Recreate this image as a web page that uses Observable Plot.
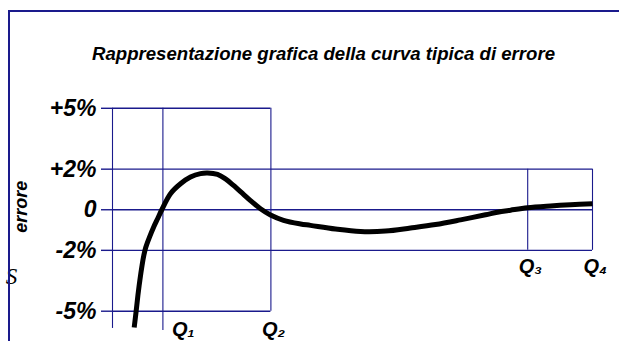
<!DOCTYPE html>
<html>
<head>
<meta charset="utf-8">
<script src="https://cdn.jsdelivr.net/npm/d3@7"></script>
<script src="https://cdn.jsdelivr.net/npm/@observablehq/plot@0.6"></script>
<style>
  html, body { margin: 0; padding: 0; background: #fff; }
  #wrap { position: relative; width: 619px; height: 341px; overflow: hidden; }
  #border { position: absolute; left: 8px; top: 10px; right: -4px; bottom: -4px;
            border-top: 2px solid #1a1a8c; border-left: 2px solid #1a1a8c; pointer-events: none; }
  #wrap svg text { font-style: italic; }
</style>
</head>
<body>
<div id="wrap"><div id="border"></div></div>
<script>
// ---- data ----
const titleText = "Rappresentazione grafica della curva tipica di errore";
const yAxisTitle = "errore";
const sideMark = "S";

// flow positions (arbitrary units, Q4 = 100)
const qNames = ["Qmin", "Q1", "Q2", "Q3", "Q4"];
const qValues = [0, 10.5, 33, 86.5, 100];
const qLabels = ["Q₁", "Q₂", "Q₃", "Q₄"];
const qLabelValues = [10.5, 33, 86.5, 100];

// y ticks (% error)
const yTicks = [5, 2, 0, -2, -5];
const yTickLabels = ["+5%", "+2%", "0", "-2%", "-5%"];

// tolerance envelope: horizontal lines (y, from x, to x)
const hY = [5, 2, 0, -2, -5];
const hFrom = [0, 0, 0, 0, 0];
const hTo = [33, 100, 100, 100, 33];

// vertical lines (x, top y, bottom y)
const vX = [0, 10.5, 33, 86.5, 100];
const vTop = [5, 5, 5, 2, 2];
const vBottom = [-5.85, -5.95, -5, -2, -2];

// typical error curve
const curveX = [4.52, 4.92, 5.29, 5.69, 6.15, 6.52, 6.92, 7.67, 8.54, 9.42, 10.27, 12.08, 14.17, 16.25, 18.33, 19.79, 21.88, 23.54, 25.21, 27.29, 28.75, 30.83, 32.92, 35.63, 39.17, 41.25, 46.46, 51.67, 56.88, 62.08, 67.29, 72.5, 77.71, 80.21, 82.92, 86.46, 91.25, 95.42, 100];
const curveY = [-5.80, -5.01, -4.23, -3.49, -2.75, -2.26, -1.86, -1.37, -0.87, -0.43, 0.0, 0.79, 1.28, 1.61, 1.78, 1.81, 1.74, 1.52, 1.20, 0.76, 0.45, 0.05, -0.26, -0.52, -0.70, -0.77, -0.95, -1.07, -1.05, -0.90, -0.73, -0.50, -0.25, -0.12, -0.02, 0.10, 0.19, 0.25, 0.30];

// ---- build tables ----
const hLines = hY.map((y, i) => ({y, x1: hFrom[i], x2: hTo[i]}));
const vLines = vX.map((x, i) => ({x, y1: vTop[i], y2: vBottom[i]}));
const curve = curveX.map((x, i) => ({x, y: curveY[i]}));
const qLow = qLabels.map((t, i) => ({t, x: qLabelValues[i]})).slice(0, 2);
const qHigh = qLabels.map((t, i) => ({t, x: qLabelValues[i]})).slice(2);

const navy = "#1a1a8c";
const bi = {fontWeight: "bold", fontStyle: "italic", fill: "black"};

const chart = Plot.plot({
  width: 619,
  height: 341,
  marginLeft: 112,
  marginRight: 27,
  marginTop: 87.5,
  marginBottom: 10,
  style: {fontFamily: "Liberation Sans, Arial, Helvetica, sans-serif", background: "transparent", overflow: "visible"},
  x: {domain: [0, 100], axis: null},
  y: {domain: [-6, 6], axis: null},
  marks: [
    Plot.ruleY(hLines, {y: "y", x1: "x1", x2: "x2", stroke: navy, strokeWidth: 1.4}),
    Plot.ruleX(vLines, {x: "x", y1: "y1", y2: "y2", stroke: navy, strokeWidth: 1.1}),
    Plot.axisY({
      ticks: yTicks,
      tickFormat: d => yTickLabels[yTicks.indexOf(d)],
      tickSize: 11,
      tickPadding: 5,
      stroke: navy,
      strokeWidth: 1.4,
      fontSize: 23,
      ...bi,
      label: null
    }),
    Plot.line(curve, {x: "x", y: "y", stroke: "black", strokeWidth: 5, curve: "catmull-rom", strokeLinecap: "butt", strokeLinejoin: "round"}),
    Plot.text(qLow, {x: "x", y: () => -5, text: "t", textAnchor: "start", dy: 18, fontSize: 20, ...bi}),
    Plot.text(qHigh, {x: "x", y: () => -2, text: "t", textAnchor: "start", dx: -9, dy: 16, fontSize: 20, ...bi}),
    Plot.text([titleText], {text: d => d, frameAnchor: "top", dx: -29, dy: -33.5, lineAnchor: "middle", fontSize: 18.6, ...bi}),
    Plot.text([yAxisTitle], {text: d => d, frameAnchor: "left", dx: -91, dy: -3, rotate: -90, lineAnchor: "middle", textAnchor: "middle", fontSize: 18, ...bi}),
    Plot.text([sideMark], {text: d => d, frameAnchor: "left", dx: -101, dy: 66.5, lineAnchor: "middle", textAnchor: "middle", fontSize: 23, fontStyle: "italic", fontFamily: "Liberation Serif, DejaVu Serif, serif", fill: "black"})
  ]
});

// Q1 label sits right of its line; Q2 label is centred on its line
d3.select(chart).selectAll("text").filter(function() { return this.textContent === "Q₁"; }).attr("dx", 9);
d3.select(chart).selectAll("text").filter(function() { return this.textContent === "Q₂"; }).attr("dx", -9);

document.getElementById("wrap").prepend(chart);
</script>
</body>
</html>
